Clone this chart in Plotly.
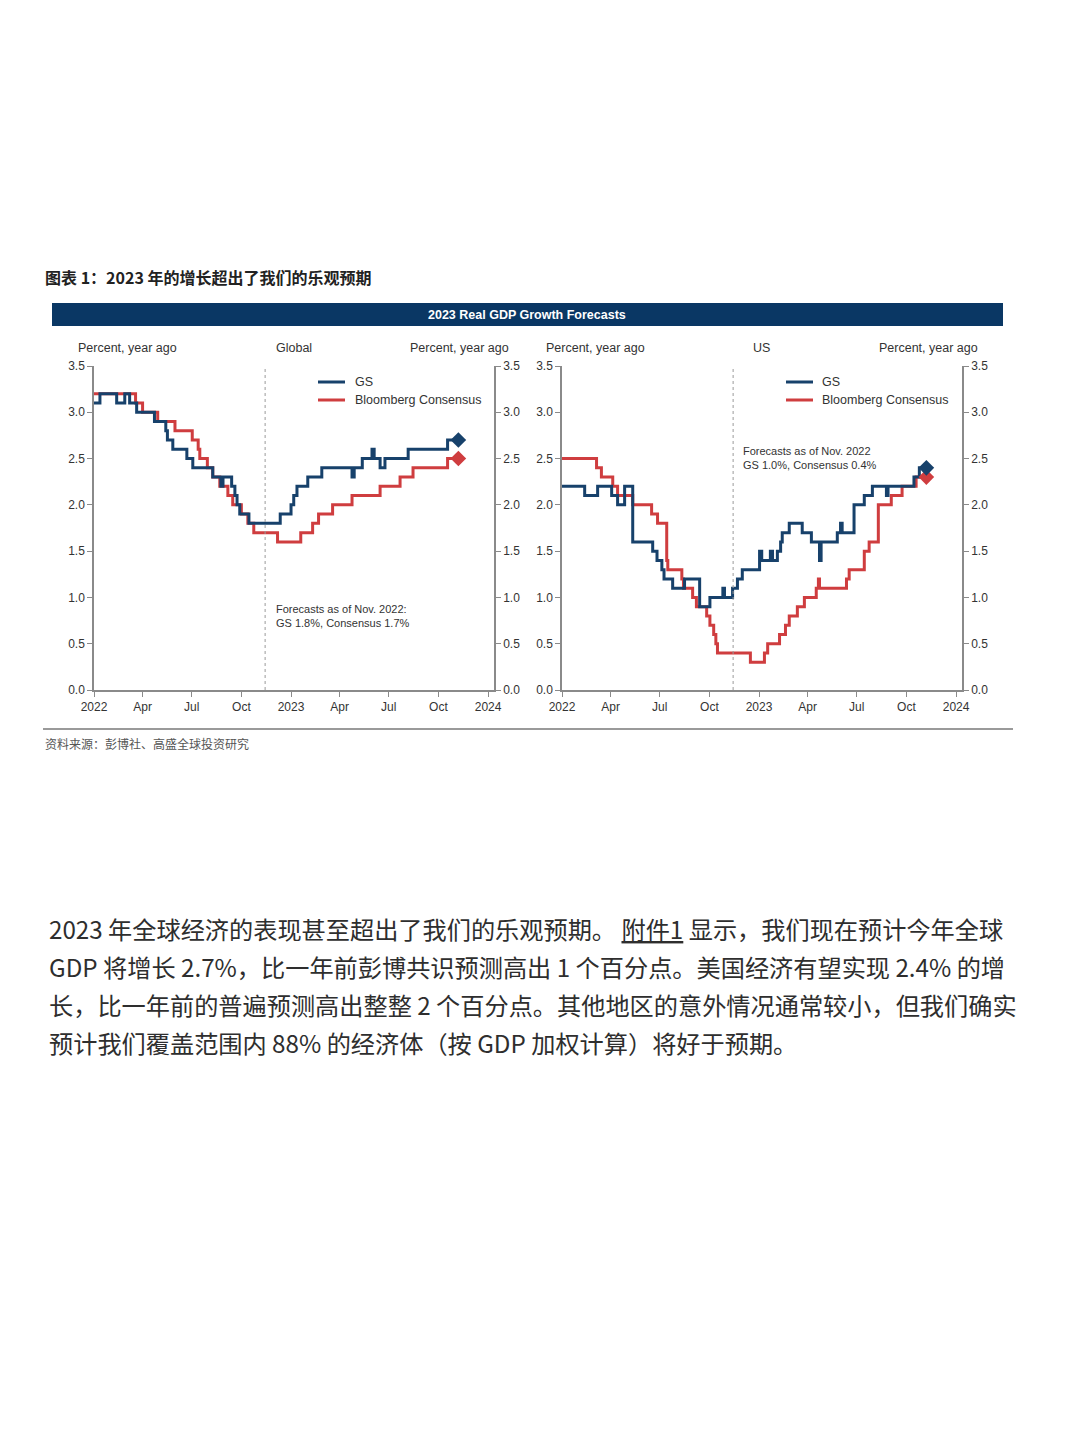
import plotly.graph_objects as go

# ---------------- data ----------------
gs_global_dates = ["2022-01-01","2022-01-12","2022-02-12","2022-02-27","2022-03-08","2022-03-21","2022-04-23",
                   "2022-05-14","2022-05-17","2022-05-27","2022-06-22","2022-07-03","2022-08-09","2022-08-24",
                   "2022-08-28","2022-09-13","2022-09-19","2022-09-23","2022-09-28","2022-10-15","2022-12-12",
                   "2023-01-01","2023-01-06","2023-01-12","2023-02-01","2023-02-27","2023-04-24","2023-04-28",
                   "2023-05-13","2023-05-31","2023-06-04","2023-06-15","2023-06-24","2023-08-06","2023-10-18",
                   "2023-11-07"]
gs_global_vals = [3.1,3.2,3.1,3.2,3.1,3.0,2.9,2.8,2.7,2.6,2.5,2.4,2.3,2.2,2.3,2.2,2.1,2.0,1.9,1.8,
                  1.9,2.0,2.1,2.2,2.3,2.4,2.3,2.4,2.5,2.6,2.5,2.4,2.5,2.6,2.7,2.7]

bbg_global_dates = ["2022-01-01","2022-03-19","2022-04-01","2022-04-29","2022-05-31","2022-07-02","2022-07-13",
                    "2022-07-16","2022-07-30","2022-08-09","2022-08-22","2022-09-06","2022-09-15","2022-10-01",
                    "2022-10-13","2022-10-24","2022-12-07","2023-01-19","2023-02-10","2023-02-21","2023-03-19",
                    "2023-04-24","2023-06-15","2023-07-22","2023-08-15","2023-10-18","2023-11-07"]
bbg_global_vals = [3.2,3.1,3.0,2.9,2.8,2.7,2.6,2.5,2.4,2.3,2.2,2.1,2.0,1.9,1.8,1.7,1.6,
                   1.7,1.8,1.9,2.0,2.1,2.2,2.3,2.4,2.5,2.5]

gs_us_dates = ["2022-01-01","2022-02-12","2022-03-08","2022-04-03","2022-04-14","2022-04-27","2022-05-12",
               "2022-06-18","2022-06-26","2022-07-05","2022-07-09","2022-07-25","2022-08-16","2022-09-13",
               "2022-10-02","2022-10-26","2022-10-29","2022-11-13","2022-11-22","2022-12-01","2023-01-02",
               "2023-01-06","2023-01-22","2023-01-26","2023-02-04","2023-02-10","2023-02-13","2023-02-26",
               "2023-03-22","2023-04-08","2023-04-23","2023-04-26","2023-05-26","2023-06-01","2023-06-04",
               "2023-06-26","2023-07-15","2023-07-30","2023-08-25","2023-08-28","2023-10-15","2023-10-25",
               "2023-11-07"]
gs_us_vals = [2.2,2.1,2.2,2.1,2.0,2.2,1.6,1.5,1.4,1.3,1.2,1.1,1.2,0.9,1.0,1.1,1.0,1.1,1.2,1.3,
              1.5,1.4,1.5,1.4,1.5,1.6,1.7,1.8,1.7,1.6,1.4,1.6,1.7,1.8,1.7,2.0,2.1,2.2,2.1,2.2,
              2.3,2.4,2.4]

bbg_us_dates = ["2022-01-01","2022-03-06","2022-03-15","2022-04-05","2022-04-14","2022-05-12","2022-06-16",
                "2022-06-27","2022-07-14","2022-07-16","2022-08-11","2022-08-14","2022-08-31","2022-09-07",
                "2022-09-26","2022-10-02","2022-10-09","2022-10-13","2022-10-16","2022-12-16","2023-01-11",
                "2023-01-17","2023-02-08","2023-02-19","2023-02-26","2023-03-13","2023-03-26","2023-04-17",
                "2023-04-21","2023-04-23","2023-06-12","2023-06-17","2023-07-15","2023-07-24","2023-08-10",
                "2023-09-03","2023-09-23","2023-10-19","2023-11-07"]
bbg_us_vals = [2.5,2.4,2.3,2.2,2.1,2.0,1.9,1.8,1.4,1.3,1.2,1.1,1.0,0.9,0.8,0.7,0.6,0.5,0.4,0.3,
               0.4,0.5,0.6,0.7,0.8,0.9,1.0,1.1,1.2,1.1,1.2,1.3,1.5,1.6,2.0,2.1,2.2,2.3,2.3]

tick_dates = ["2022-01-01","2022-04-01","2022-07-01","2022-10-01","2023-01-01",
              "2023-04-01","2023-07-01","2023-10-01","2024-01-01"]
tick_labels = ["2022","Apr","Jul","Oct","2023","Apr","Jul","Oct","2024"]
forecast_date = "2022-11-14"
x_range = ["2022-01-01", "2024-01-12"]
y_range = [0, 3.5]

series_names = ["GS", "Bloomberg Consensus"]
NAVY = "#17416b"
RED = "#cf3d3f"
AXC = "#8a8a8a"
FONT = "Arial, Liberation Sans, sans-serif"
CJK = "Noto Sans CJK SC, sans-serif"

W, H = 1080, 1440
def px(x): return x / W
def py(y): return 1 - y / H

fig = go.Figure()

panels = [
    ("x", "y", "y2", gs_global_dates, gs_global_vals, bbg_global_dates, bbg_global_vals),
    ("x2", "y3", "y4", gs_us_dates, gs_us_vals, bbg_us_dates, bbg_us_vals),
]
for xa, ya, ya2, gd, gv, bd, bv in panels:
    fig.add_trace(go.Scatter(x=bd, y=bv, mode="lines", line=dict(color=RED, width=3, shape="hv"),
                             xaxis=xa, yaxis=ya, name=series_names[1], showlegend=False))
    fig.add_trace(go.Scatter(x=gd, y=gv, mode="lines", line=dict(color=NAVY, width=3, shape="hv"),
                             xaxis=xa, yaxis=ya, name=series_names[0], showlegend=False))
    fig.add_trace(go.Scatter(x=[bd[-1]], y=[bv[-1]], mode="markers",
                             marker=dict(symbol="diamond", size=12, color=RED),
                             xaxis=xa, yaxis=ya2, showlegend=False, cliponaxis=False))
    fig.add_trace(go.Scatter(x=[gd[-1]], y=[gv[-1]], mode="markers",
                             marker=dict(symbol="diamond", size=12, color=NAVY),
                             xaxis=xa, yaxis=ya2, showlegend=False, cliponaxis=False))

ydom = [py(690), py(366)]
xcommon = dict(type="date", range=x_range, tickmode="array", tickvals=tick_dates, ticktext=tick_labels,
               ticks="outside", ticklen=5, tickcolor=AXC, showline=True, linecolor=AXC, linewidth=1.5,
               showgrid=False, zeroline=False, tickfont=dict(family=FONT, size=12, color="#333"),
               fixedrange=True)
ycommon = dict(range=y_range, dtick=0.5, tickformat=".1f", ticks="outside", ticklen=5, tickcolor=AXC,
               showline=True, linecolor=AXC, linewidth=1.5, showgrid=False, zeroline=False,
               tickfont=dict(family=FONT, size=12, color="#333"), fixedrange=True)

fig.update_layout(
    width=W, height=H, margin=dict(l=0, r=0, t=0, b=0, autoexpand=False),
    paper_bgcolor="white", plot_bgcolor="white", showlegend=False,
    xaxis=dict(domain=[px(94), px(494)], anchor="y", **xcommon),
    yaxis=dict(domain=ydom, anchor="x", side="left", **ycommon),
    yaxis2=dict(overlaying="y", anchor="x", side="right", **ycommon),
    xaxis2=dict(domain=[px(562), px(962)], anchor="y3", **xcommon),
    yaxis3=dict(domain=ydom, anchor="x2", side="left", **ycommon),
    yaxis4=dict(overlaying="y3", anchor="x2", side="right", **ycommon),
)

shapes = []
for xr, yr in (("x", "y"), ("x2", "y3")):
    shapes.append(dict(type="line", xref=xr, yref=yr, x0=forecast_date, x1=forecast_date, y0=0, y1=3.5,
                       line=dict(color="#9a9a9a", width=1, dash="dot")))
shapes.append(dict(type="rect", xref="paper", yref="paper", x0=px(52), x1=px(1003), y0=py(326), y1=py(303),
                   fillcolor="#0a3764", line=dict(width=0)))
shapes.append(dict(type="line", xref="paper", yref="paper", x0=px(43), x1=px(1013), y0=py(729), y1=py(729),
                   line=dict(color="#9a9a9a", width=2)))
for lx in (318, 786):
    shapes.append(dict(type="line", xref="paper", yref="paper", x0=px(lx), x1=px(lx + 27), y0=py(382), y1=py(382),
                       line=dict(color=NAVY, width=3)))
    shapes.append(dict(type="line", xref="paper", yref="paper", x0=px(lx), x1=px(lx + 27), y0=py(400), y1=py(400),
                       line=dict(color=RED, width=3)))
fig.update_layout(shapes=shapes)

ann = []
def A(x, y, text, size, color="#333", family=FONT, xanchor="left", align="left", yanchor="middle"):
    ann.append(dict(xref="paper", yref="paper", x=px(x), y=py(y), text=text, showarrow=False,
                    xanchor=xanchor, yanchor=yanchor, align=align,
                    font=dict(family=family, size=size, color=color)))

A(43, 277, "<b>图表 1：2023 年的增长超出了我们的乐观预期</b>", 16, "#222", CJK)
A(527, 315, "<b>2023 Real GDP Growth Forecasts</b>", 12.5, "white", FONT, xanchor="center", align="center")
A(76, 348, "Percent, year ago", 12.5)
A(294, 348, "Global", 12.5, xanchor="center", align="center")
A(511, 348, "Percent, year ago", 12.5, xanchor="right", align="right")
A(544, 348, "Percent, year ago", 12.5)
A(761, 348, "US", 12.5, xanchor="center", align="center")
A(980, 348, "Percent, year ago", 12.5, xanchor="right", align="right")
for tx in (353, 820):
    A(tx, 382, series_names[0], 12.5)
    A(tx, 400, series_names[1], 12.5)
A(274, 616, "Forecasts as of Nov. 2022:<br>GS 1.8%, Consensus 1.7%", 11)
A(741, 458, "Forecasts as of Nov. 2022<br>GS 1.0%, Consensus 0.4%", 11)
A(43, 743, "资料来源：彭博社、高盛全球投资研究", 12, "#555", CJK)

body = [
    "2023 年全球经济的表现甚至超出了我们的乐观预期。 <u>附件1</u> 显示，我们现在预计今年全球",
    "GDP 将增长 2.7%，比一年前彭博共识预测高出 1 个百分点。美国经济有望实现 2.4% 的增",
    "长，比一年前的普遍预测高出整整 2 个百分点。其他地区的意外情况通常较小，但我们确实",
    "预计我们覆盖范围内 88% 的经济体（按 GDP 加权计算）将好于预期。",
]
for i, line in enumerate(body):
    A(47, 928 + i * 38.3, line, 24.2, "#2e2e2e", CJK)

fig.update_layout(annotations=ann)
fig.write_html("out.html", config={"displayModeBar": False},
               post_script="document.body.style.margin='0';document.body.style.overflow='hidden';")
